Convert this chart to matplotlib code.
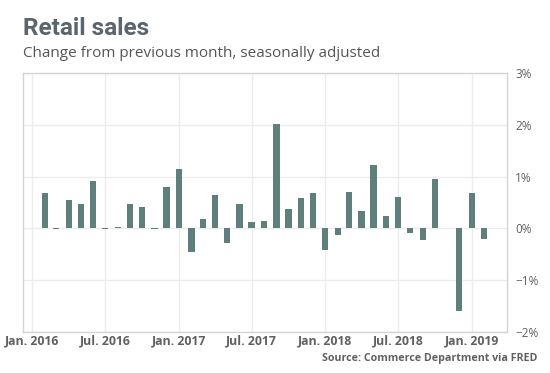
import pandas as pd
import numpy as np
import matplotlib
matplotlib.use("Agg")
import matplotlib.pyplot as plt

# monthly % change, Feb 2016 - Feb 2019
months = pd.date_range("2016-02-01", "2019-02-01", freq="MS")
changes = [0.69, -0.02, 0.54, 0.47, 0.92, -0.02, 0.03, 0.47, 0.42, -0.02, 0.79,
           1.15, -0.45, 0.19, 0.65, -0.29, 0.47, 0.12, 0.15, 2.01, 0.37, 0.58, 0.69,
           -0.42, -0.13, 0.71, 0.33, 1.22, 0.24, 0.60, -0.08, -0.22, 0.96, 0.0,
           -1.60, 0.69, -0.21]
tick_dates = pd.to_datetime(["2016-01-01", "2016-07-01", "2017-01-01", "2017-07-01",
                             "2018-01-01", "2018-07-01", "2019-01-01"])
tick_labels = ["Jan. 2016", "Jul. 2016", "Jan. 2017", "Jul. 2017",
               "Jan. 2018", "Jul. 2018", "Jan. 2019"]
y_ticks = [-2, -1, 0, 1, 2, 3]
y_labels = ["\u22122%", "\u22121%", "0%", "1%", "2%", "3%"]

bar_color = "#5f7f7d"
grid_color = "#ececec"
frame_color = "#d4d4d4"
text_gray = "#606060"

fig = plt.figure(figsize=(5.5, 3.73), dpi=100)
ax = fig.add_axes([23 / 550, 41 / 373, 484 / 550, 259 / 373])

ax.bar(months, changes, width=15.5, color=bar_color, zorder=3)

ax.set_xlim(pd.Timestamp("2015-12-09"), pd.Timestamp("2019-03-30"))
ax.set_ylim(-2, 3)
ax.set_xticks(tick_dates)
ax.set_xticklabels(tick_labels, fontfamily="Open Sans", fontweight="bold",
                   fontsize=8.8, color=text_gray)
ax.set_yticks(y_ticks)
ax.set_yticklabels(y_labels, fontfamily="Open Sans", fontsize=8.5, color=text_gray)
ax.yaxis.tick_right()
ax.tick_params(axis="both", length=0)
ax.tick_params(axis="x", pad=2)
ax.tick_params(axis="y", pad=6)
ax.grid(True, color=grid_color, linewidth=1, zorder=0)
for s in ax.spines.values():
    s.set_color(frame_color)
    s.set_linewidth(1)

fig.text(23 / 550, 1 - 35 / 373, "Retail sales", fontfamily="Roboto",
         fontweight="bold", fontsize=17.5, color="#5b6570")
fig.text(23 / 550, 1 - 57 / 373, "Change from previous month, seasonally adjusted",
         fontfamily="Open Sans", fontsize=11, color="#555555")
fig.text(537 / 550, 1 - 361 / 373, "Source: Commerce Department via FRED",
         fontfamily="Open Sans", fontweight="bold", fontsize=7.7, color=text_gray,
         ha="right")

fig.savefig("out.png", dpi=100)
